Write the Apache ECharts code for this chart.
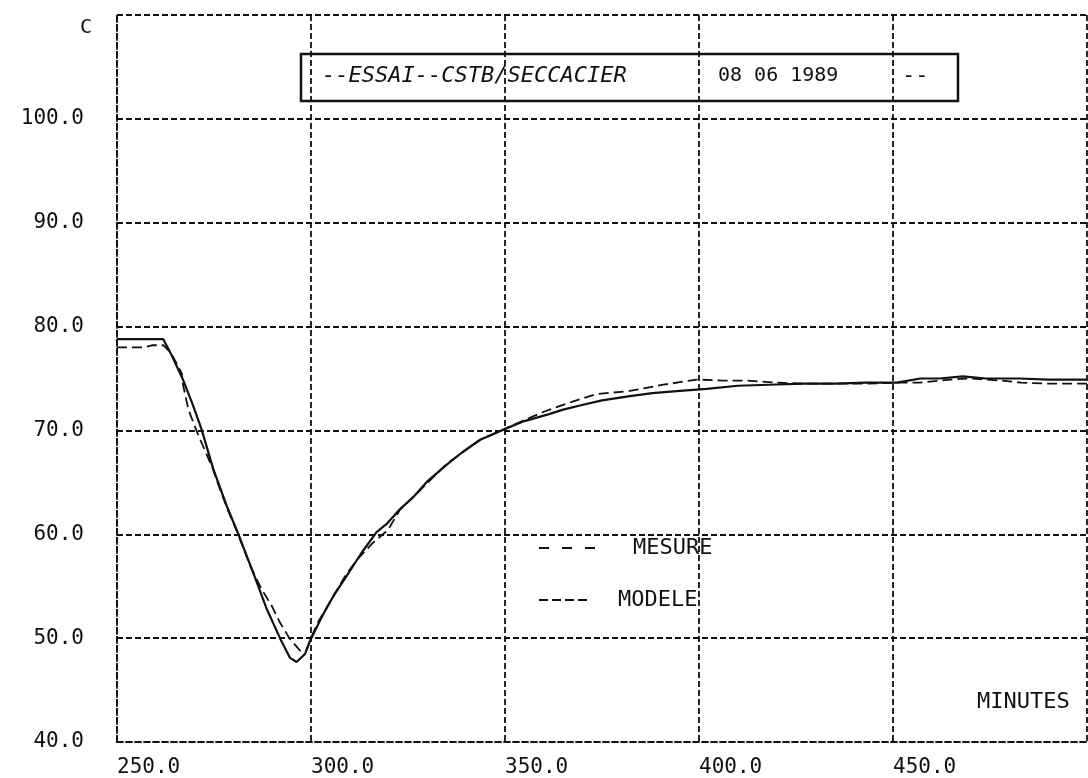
<!DOCTYPE html>
<html><head><meta charset="utf-8">
<script src="https://cdn.jsdelivr.net/npm/echarts@6/dist/echarts.min.js"></script>
<style>html,body{margin:0;padding:0;background:#fff}#c{width:1088px;height:778px}</style>
</head><body><div id="c"></div>
<script>
// ---- data ----
const xTicks = [250, 300, 350, 400, 450, 500];
const yTicks = [40, 50, 60, 70, 80, 90, 100, 110];
const seriesNames = ['MESURE', 'MODELE'];
const titleMain = '--ESSAI--CSTB/SECCACIER';
const titleDate = '08 06 1989';
const titleEnd = '--';
const yUnit = 'C';
const xUnit = 'MINUTES';

const modeleTime = [250, 256, 261.9, 264, 267, 269.5, 271.8, 274.8, 278.3, 281.3, 285.1, 288.6, 292, 294.6, 296.3, 298.5, 299.7, 303, 306, 309.2, 313, 316.9, 319.5, 322.9, 326.4, 330, 335, 339, 343.6, 349.7, 355, 360.7, 365, 369.3, 375, 382.2, 388, 395.1, 402, 410, 418, 426.8, 435, 443, 451, 457, 462, 468, 474, 482.7, 490, 500];
const modeleTemp = [78.8, 78.8, 78.8, 77.3, 74.9, 72.5, 70.1, 66.3, 62.7, 60.0, 56.3, 52.8, 50.0, 48.1, 47.7, 48.5, 49.7, 52.2, 54.2, 56.0, 58.2, 60.2, 61.0, 62.4, 63.6, 65.1, 66.7, 67.9, 69.1, 70.1, 70.9, 71.5, 72.0, 72.4, 72.9, 73.3, 73.6, 73.8, 74.0, 74.3, 74.4, 74.5, 74.5, 74.6, 74.6, 75.0, 75.0, 75.2, 75.0, 75.0, 74.9, 74.9];

const mesureTime = [250, 257, 259, 262, 264, 266.7, 266.9, 268.4, 271, 273.1, 274.6, 276.5, 278.5, 281, 284.5, 287.3, 289.9, 292, 294.6, 297.2, 298.9, 300.2, 301.9, 305.4, 309, 312, 316, 319.8, 323, 326.4, 335, 343.6, 349.7, 355, 360, 367.6, 373.6, 382.2, 390.8, 399.4, 406.3, 412, 420, 427, 435, 443, 451, 457, 465, 470, 478, 483, 490, 500];
const mesureTemp = [78.0, 78.0, 78.2, 78.2, 77.4, 75.5, 74.6, 72.0, 69.5, 67.7, 66.4, 64.4, 62.4, 60.2, 56.8, 54.7, 53.1, 51.5, 49.9, 48.8, 48.9, 50.2, 51.6, 53.8, 56.1, 57.6, 59.2, 60.4, 62.4, 63.6, 66.8, 69.1, 70.1, 71.0, 71.8, 72.8, 73.5, 73.8, 74.4, 74.9, 74.8, 74.8, 74.6, 74.5, 74.5, 74.5, 74.6, 74.6, 74.9, 75.0, 74.8, 74.6, 74.5, 74.5];

// ---- chart ----
const MONO = '"DejaVu Sans Mono", "Liberation Mono", monospace';
const INK = '#111';
const GRID_DASH = [6, 3];
const GRID_W = 1.8;
const zip = (a, b) => a.map((v, i) => [v, b[i]]);

const chart = echarts.init(document.getElementById('c'), null, {renderer: 'canvas'});
chart.setOption({
  backgroundColor: '#fff',
  animation: false,
  grid: {left: 117, right: 1, top: 15, bottom: 35, containLabel: false},
  xAxis: {
    type: 'value', min: xTicks[0], max: xTicks[xTicks.length - 1], interval: xTicks[1] - xTicks[0],
    axisLine: {show: true, lineStyle: {color: INK, width: GRID_W, type: GRID_DASH}},
    axisTick: {show: false},
    axisLabel: {formatter: v => v.toFixed(1), align: 'left', margin: 15, fontFamily: MONO, fontSize: 21, color: INK, showMaxLabel: false},
    splitLine: {show: true, showMinLine: true, showMaxLine: true, lineStyle: {color: INK, width: GRID_W, type: GRID_DASH}}
  },
  yAxis: {
    type: 'value', min: yTicks[0], max: yTicks[yTicks.length - 1], interval: yTicks[1] - yTicks[0],
    axisLine: {show: true, lineStyle: {color: INK, width: GRID_W, type: GRID_DASH}},
    axisTick: {show: false},
    axisLabel: {formatter: v => v.toFixed(1), margin: 33, fontFamily: MONO, fontSize: 21, color: INK, showMaxLabel: false},
    splitLine: {show: true, showMinLine: true, showMaxLine: true, lineStyle: {color: INK, width: GRID_W, type: GRID_DASH}}
  },
  legend: [
    {data: [{name: seriesNames[0], itemStyle: {opacity: 0}}], left: 538, top: 537, padding: 0, itemWidth: 58, itemHeight: 14, selectedMode: false,
     itemStyle: {opacity: 0},
     lineStyle: {type: [10, 13], width: 2, color: INK},
     textStyle: {fontFamily: MONO, fontSize: 22, color: INK, padding: [0, 0, 0, 31]}},
    {data: [{name: seriesNames[1], itemStyle: {opacity: 0}}], left: 538, top: 589, padding: 0, itemWidth: 50, itemHeight: 14, selectedMode: false,
     itemStyle: {opacity: 0},
     lineStyle: {type: [9, 4], width: 2, color: INK},
     textStyle: {fontFamily: MONO, fontSize: 22, color: INK, padding: [0, 0, 0, 24]}}
  ],
  series: [
    {name: seriesNames[0], type: 'line', data: zip(mesureTime, mesureTemp), symbol: 'none', showSymbol: false,
     lineStyle: {color: INK, width: 1.8, type: [10, 5]}, itemStyle: {color: INK}, z: 3},
    {name: seriesNames[1], type: 'line', data: zip(modeleTime, modeleTemp), symbol: 'none', showSymbol: false,
     lineStyle: {color: INK, width: 2.2, type: 'solid'}, itemStyle: {color: INK}, z: 4}
  ],
  graphic: [
    {type: 'rect', shape: {x: 301, y: 54, width: 657, height: 47}, style: {fill: 'none', stroke: INK, lineWidth: 2.5}, z: 10},
    {type: 'text', x: 322, y: 76, style: {text: titleMain, fontFamily: MONO, fontSize: 22, fontStyle: 'italic', fill: INK, verticalAlign: 'middle'}, z: 10},
    {type: 'text', x: 718, y: 76, style: {text: titleDate, fontFamily: MONO, fontSize: 20, fill: INK, verticalAlign: 'middle'}, z: 10},
    {type: 'text', x: 902, y: 76, style: {text: titleEnd, fontFamily: MONO, fontSize: 22, fill: INK, verticalAlign: 'middle'}, z: 10},
    {type: 'text', x: 80, y: 28, style: {text: yUnit, fontFamily: MONO, fontSize: 20, fill: INK, verticalAlign: 'middle'}, z: 10},
    {type: 'text', x: 977, y: 702, style: {text: xUnit, fontFamily: MONO, fontSize: 22, fill: INK, verticalAlign: 'middle'}, z: 10}
  ]
});
</script>
</body></html>
